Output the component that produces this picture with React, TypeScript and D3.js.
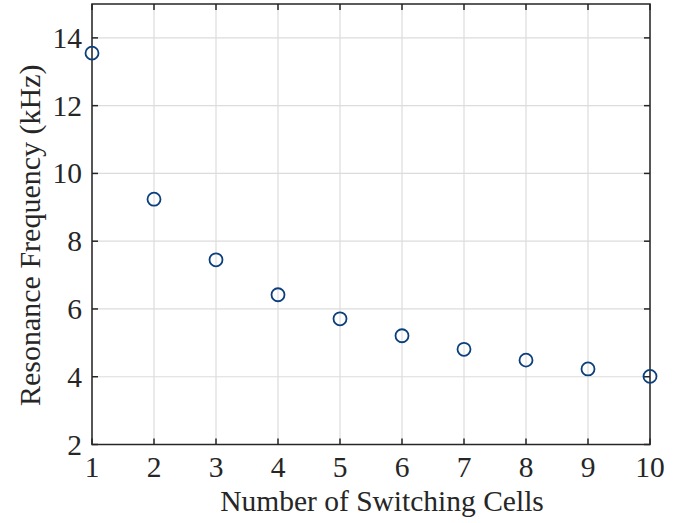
import React from 'react';
import * as d3 from 'd3';

const cells = [1, 2, 3, 4, 5, 6, 7, 8, 9, 10];
const freqKHz = [13.55, 9.24, 7.45, 6.42, 5.71, 5.21, 4.81, 4.49, 4.23, 4.01];
const xTicks = [1, 2, 3, 4, 5, 6, 7, 8, 9, 10];
const yTicks = [2, 4, 6, 8, 10, 12, 14];

const width = 692;
const height = 523;
const margin = { top: 4, right: 42, bottom: 78.5, left: 92 };
const font = '"Liberation Serif", serif';
const axisColor = '#262626';

export default function App() {
  const x = d3.scaleLinear().domain([1, 10]).range([margin.left, width - margin.right]);
  const y = d3.scaleLinear().domain([2, 15]).range([height - margin.bottom, margin.top]);
  const [x0, x1] = x.range();
  const [y0, y1] = y.range();
  const tick = 6;

  return (
    <svg width={width} height={height} style={{ position: 'absolute', left: 0, top: 0, background: '#fff' }}>
      {/* grid */}
      {xTicks.map(t => (
        <line key={'gx' + t} x1={x(t)} x2={x(t)} y1={y0} y2={y1} stroke="#dcdcdc" strokeWidth={1.2} />
      ))}
      {yTicks.map(t => (
        <line key={'gy' + t} x1={x0} x2={x1} y1={y(t)} y2={y(t)} stroke="#dcdcdc" strokeWidth={1.2} />
      ))}

      {/* box */}
      <rect x={x0} y={y1} width={x1 - x0} height={y0 - y1} fill="none" stroke={axisColor} strokeWidth={1.5} />

      {/* ticks */}
      {xTicks.map(t => (
        <g key={'tx' + t}>
          <line x1={x(t)} x2={x(t)} y1={y0} y2={y0 - tick} stroke={axisColor} strokeWidth={1.5} />
          <line x1={x(t)} x2={x(t)} y1={y1} y2={y1 + tick} stroke={axisColor} strokeWidth={1.5} />
          <text x={x(t)} y={y0 + 32} textAnchor="middle" fontFamily={font} fontSize={29.5} fill={axisColor}>
            {t}
          </text>
        </g>
      ))}
      {yTicks.map(t => (
        <g key={'ty' + t}>
          <line x1={x0} x2={x0 + tick} y1={y(t)} y2={y(t)} stroke={axisColor} strokeWidth={1.5} />
          <line x1={x1} x2={x1 - tick} y1={y(t)} y2={y(t)} stroke={axisColor} strokeWidth={1.5} />
          <text x={x0 - 10} y={y(t)} dy="0.34em" textAnchor="end" fontFamily={font} fontSize={29.5} fill={axisColor}>
            {t}
          </text>
        </g>
      ))}

      {/* points */}
      {cells.map((c, i) => (
        <circle key={'p' + c} cx={x(c)} cy={y(freqKHz[i])} r={6.5} fill="none" stroke="#0b3f7c" strokeWidth={1.8} />
      ))}

      {/* labels */}
      <text x={(x0 + x1) / 2 + 11} y={height - 12} textAnchor="middle" fontFamily={font} fontSize={29.5} fill={axisColor}>
        Number of Switching Cells
      </text>
      <text
        transform={`translate(40,${(y0 + y1) / 2 + 11}) rotate(-90)`}
        textAnchor="middle"
        fontFamily={font}
        fontSize={30}
        fill={axisColor}
      >
        Resonance Frequency (kHz)
      </text>
    </svg>
  );
}
